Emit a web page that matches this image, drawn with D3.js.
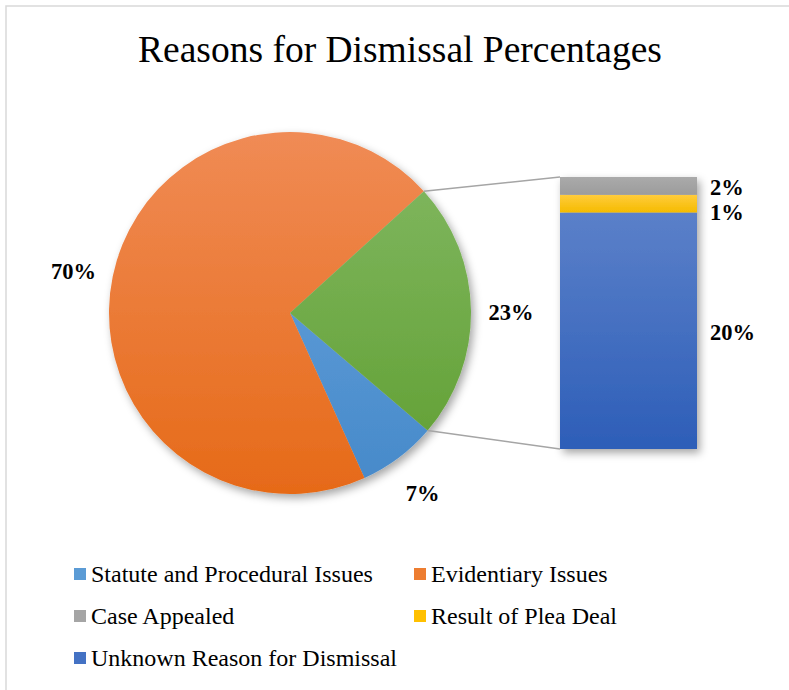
<!DOCTYPE html>
<html>
<head>
<meta charset="utf-8">
<script src="https://cdn.jsdelivr.net/npm/d3@7"></script>
<style>
  body { margin: 0; background: #fff; }
  svg { display: block; font-family: "Liberation Serif", "Times New Roman", serif; }
</style>
</head>
<body>
<div class="chart"></div>
<script>
// pie data (main pie)
var pieCategories = ["Statute and Procedural Issues", "Evidentiary Issues", "Other"];
var pieValues = [7, 70, 23];

// bar data (split of "Other"), bottom to top
var barCategories = ["Unknown Reason for Dismissal", "Result of Plea Deal", "Case Appealed"];
var barValues = [20.0, 1.49, 1.51];

// legend order
var legendItems = ["Statute and Procedural Issues", "Evidentiary Issues", "Case Appealed", "Result of Plea Deal", "Unknown Reason for Dismissal"];

var colors = {
    "Statute and Procedural Issues": ["#6aa6e0", "#4689c9"],
    "Evidentiary Issues": ["#f08b55", "#e66a18"],
    "Other": ["#83b964", "#5f9e30"],
    "Unknown Reason for Dismissal": ["#5b80c9", "#2d5eb8"],
    "Result of Plea Deal": ["#ffcc3c", "#f5bb00"],
    "Case Appealed": ["#aaaaaa", "#9c9c9c"]
};
var legendColors = {
    "Statute and Procedural Issues": "#5b9bd5",
    "Evidentiary Issues": "#ed7d31",
    "Case Appealed": "#a5a5a5",
    "Result of Plea Deal": "#ffc000",
    "Unknown Reason for Dismissal": "#4472c4"
};

var width = 789, height = 690;

var svg = d3.select(".chart")
    .append("svg")
    .attr("width", width)
    .attr("height", height);

var defs = svg.append("defs");

// soft drop shadow
var filter = defs.append("filter")
    .attr("id", "shadow")
    .attr("x", "-20%").attr("y", "-20%")
    .attr("width", "140%").attr("height", "140%");
filter.append("feDropShadow")
    .attr("dx", 3).attr("dy", 4)
    .attr("stdDeviation", 4)
    .attr("flood-color", "#000")
    .attr("flood-opacity", 0.35);

// chart border
svg.append("rect")
    .attr("x", 6).attr("y", 6)
    .attr("width", 820).attr("height", 720)
    .attr("fill", "none")
    .attr("stroke", "#d9d9d9")
    .attr("stroke-width", 1.5);

// title
svg.append("text")
    .attr("x", 400)
    .attr("y", 62)
    .attr("text-anchor", "middle")
    .style("font-size", "37.5px")
    .style("fill", "#000")
    .text("Reasons for Dismissal Percentages");

//////////
// PIE //
//////////
var cx = 290, cy = 313, radius = 181;
var startDeg = 130.5;

var pie = d3.pie()
    .sort(null)
    .value(function (d) { return d.value; })
    .startAngle(startDeg * Math.PI / 180)
    .endAngle((startDeg + 360) * Math.PI / 180);

var pieData = pie(pieCategories.map(function (c, i) { return { key: c, value: pieValues[i] }; }));

var arc = d3.arc().innerRadius(0).outerRadius(radius);

function makeGrad(id, cols, units, y1, y2) {
    var g = defs.append("linearGradient")
        .attr("id", id)
        .attr("x1", 0).attr("x2", 0)
        .attr("y1", y1).attr("y2", y2);
    if (units) g.attr("gradientUnits", units);
    g.append("stop").attr("offset", "0%").attr("stop-color", cols[0]);
    g.append("stop").attr("offset", "100%").attr("stop-color", cols[1]);
}

pieCategories.forEach(function (c, i) {
    makeGrad("pg" + i, colors[c], "userSpaceOnUse", -radius, radius);
});

var pieG = svg.append("g")
    .attr("transform", "translate(" + cx + "," + cy + ")");

pieG.append("g")
    .attr("filter", "url(#shadow)")
    .selectAll("path")
    .data(pieData)
    .enter()
    .append("path")
    .attr("d", arc)
    .attr("fill", function (d, i) { return "url(#pg" + i + ")"; })
    .attr("stroke", "none");

// pie labels
var labelR = radius + 40;
pieG.selectAll(".plabel")
    .data(pieData)
    .enter()
    .append("text")
    .attr("class", "plabel")
    .attr("x", function (d) { var a = (d.startAngle + d.endAngle) / 2; return Math.sin(a) * labelR; })
    .attr("y", function (d) { var a = (d.startAngle + d.endAngle) / 2; return -Math.cos(a) * labelR + 3; })
    .attr("dy", "0.35em")
    .attr("text-anchor", "middle")
    .style("font-size", "22.5px")
    .style("font-weight", "bold")
    .text(function (d) { return d.value + "%"; });

//////////
// BAR //
//////////
var barX = 560, barW = 137, barTop = 177, barBottom = 449;
var y = d3.scaleLinear()
    .domain([0, d3.sum(barValues)])
    .range([barBottom, barTop]);

var cum = 0;
var barData = barCategories.map(function (c, i) {
    var o = { key: c, value: barValues[i], y0: cum, y1: cum + barValues[i] };
    cum += barValues[i];
    return o;
});

barCategories.forEach(function (c, i) {
    makeGrad("bg" + i, colors[c], null, 0, 1);
});

var barG = svg.append("g").attr("filter", "url(#shadow)");
barG.selectAll("rect")
    .data(barData)
    .enter()
    .append("rect")
    .attr("x", barX)
    .attr("width", barW)
    .attr("y", function (d) { return y(d.y1); })
    .attr("height", function (d) { return y(d.y0) - y(d.y1); })
    .attr("fill", function (d, i) { return "url(#bg" + i + ")"; });

// connector lines
var other = pieData[2];
function piePoint(a) { return [cx + Math.sin(a) * radius, cy - Math.cos(a) * radius]; }
var pTop = piePoint(other.startAngle), pBot = piePoint(other.endAngle);
svg.append("line")
    .attr("x1", pTop[0]).attr("y1", pTop[1])
    .attr("x2", barX).attr("y2", barTop)
    .attr("stroke", "#a5a5a5").attr("stroke-width", 1.5);
svg.append("line")
    .attr("x1", pBot[0]).attr("y1", pBot[1])
    .attr("x2", barX).attr("y2", barBottom)
    .attr("stroke", "#a5a5a5").attr("stroke-width", 1.5);

// bar labels, pushed apart from the top down
var fmt = d3.format(".0f");
var labelPos = barData.map(function (d) { return (y(d.y0) + y(d.y1)) / 2; });
for (var i = barData.length - 2; i >= 0; i--) {
    if (labelPos[i] - labelPos[i + 1] < 25) labelPos[i] = labelPos[i + 1] + 25;
}
svg.selectAll(".blabel")
    .data(barData)
    .enter()
    .append("text")
    .attr("class", "blabel")
    .attr("x", barX + barW + 13)
    .attr("y", function (d, i) { return labelPos[i] + 1; })
    .attr("dy", "0.35em")
    .style("font-size", "22.5px")
    .style("font-weight", "bold")
    .text(function (d) { return fmt(d.value) + "%"; });

//////////
// LEGEND //
//////////
var legend = svg.selectAll(".legend")
    .data(legendItems)
    .enter()
    .append("g")
    .attr("class", "legend")
    .attr("transform", function (d, i) {
        return "translate(" + (i % 2 === 0 ? 74 : 414) + "," + (575 + Math.floor(i / 2) * 42) + ")";
    });

legend.append("rect")
    .attr("x", 0).attr("y", -7)
    .attr("width", 12).attr("height", 12)
    .attr("fill", function (d) { return legendColors[d]; });

legend.append("text")
    .attr("x", 17)
    .attr("y", 7)
    .style("font-size", "24px")
    .text(function (d) { return d; });
</script>
</body>
</html>
